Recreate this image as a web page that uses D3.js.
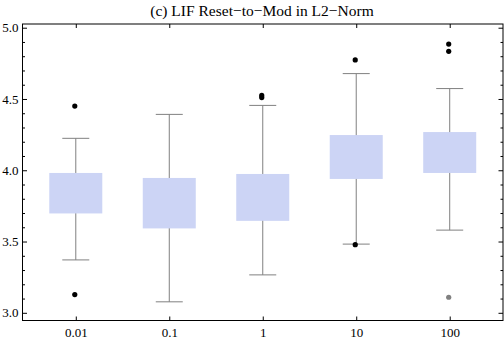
<!DOCTYPE html>
<html><head><meta charset="utf-8">
<script src="https://cdn.jsdelivr.net/npm/d3@7"></script>
<style>body{margin:0;background:#fff}svg{display:block}svg text{font-family:'Liberation Serif',serif !important}</style>
</head><body><svg id="c" width="504" height="343"></svg>
<script>
const categories = ["0.01","0.1","1","10","100"];
const q1 = [3.697, 3.592, 3.645, 3.939, 3.981];
const q3 = [3.981, 3.946, 3.974, 4.247, 4.268];
const whiskerLow = [3.371, 3.077, 3.266, 3.482, 3.580];
const whiskerHigh = [4.224, 4.392, 4.455, 4.678, 4.573];
const outliers = [[4.45, 3.128], [], [4.51, 4.525], [4.774, 3.478], [4.885, 4.834]];
const farOutliers = [[], [], [], [], [3.109]];
const yTicks = [3.0, 3.5, 4.0, 4.5, 5.0];
const title = "(c) LIF Reset\u2212to\u2212Mod in L2\u2212Norm";

const svg = d3.select("#c");
const L = 22.5, R = 503, T = 24, B = 320.5;
const x = d3.scalePoint().domain(categories).range([L, R]).padding(0.57);
const y = d3.scaleLinear().domain([2.946, 5.026]).range([B, T]);
const boxW = 53, capW = 27;

const g = svg.append("g");
categories.forEach((c, i) => {
  const cx = x(c);
  g.append("line").attr("x1", cx).attr("x2", cx).attr("y1", y(whiskerLow[i])).attr("y2", y(whiskerHigh[i]))
    .attr("stroke", "#808080").attr("stroke-width", 1);
  [whiskerLow[i], whiskerHigh[i]].forEach(v => {
    g.append("line").attr("x1", cx - capW/2).attr("x2", cx + capW/2).attr("y1", y(v)).attr("y2", y(v))
      .attr("stroke", "#808080").attr("stroke-width", 1);
  });
  g.append("rect").attr("x", cx - boxW/2).attr("width", boxW).attr("y", y(q3[i])).attr("height", y(q1[i]) - y(q3[i]))
    .attr("fill", "#CCD4F5");
  outliers[i].forEach(v => g.append("circle").attr("cx", cx - 1).attr("cy", y(v)).attr("r", 2.6).attr("fill", "#000"));
  farOutliers[i].forEach(v => g.append("circle").attr("cx", cx - 1).attr("cy", y(v)).attr("r", 2.6).attr("fill", "#808080"));
});

svg.append("rect").attr("x", L).attr("y", T).attr("width", R - L).attr("height", B - T)
  .attr("fill", "none").attr("stroke", "#000").attr("stroke-width", 1);

const minor = d3.range(30, 51).map(d => d / 10).filter(v => !yTicks.some(t => Math.abs(t - v) < 1e-6));
function styleAxis(sel){
  sel.select(".domain").remove();
  sel.attr("font-family", "Liberation Serif, serif").attr("font-size", 13);
  sel.selectAll("line").attr("stroke", "#000");
  sel.selectAll("text").attr("fill", "#000");
}

svg.append("g").attr("transform", `translate(${L},0)`)
  .call(d3.axisLeft(y).tickValues(yTicks).tickSize(-4.5).tickPadding(4).tickFormat(d3.format(".1f")))
  .call(styleAxis);
svg.append("g").attr("transform", `translate(${L},0)`)
  .call(d3.axisLeft(y).tickValues(minor).tickSize(-2.5).tickFormat(""))
  .call(styleAxis);
svg.append("g").attr("transform", `translate(${R},0)`)
  .call(d3.axisRight(y).tickValues(yTicks).tickSize(-4.5).tickFormat(""))
  .call(styleAxis);
svg.append("g").attr("transform", `translate(${R},0)`)
  .call(d3.axisRight(y).tickValues(minor).tickSize(-2.5).tickFormat(""))
  .call(styleAxis);
svg.append("g").attr("transform", `translate(0,${B})`)
  .call(d3.axisBottom(x).tickSize(-4).tickPadding(7))
  .call(styleAxis);
svg.append("g").attr("transform", `translate(0,${T})`)
  .call(d3.axisTop(x).tickSize(-4).tickFormat(""))
  .call(styleAxis);

svg.append("text").attr("x", 262).attr("y", 16).attr("text-anchor", "middle")
  .attr("font-size", 15.5).attr("fill", "#000").text(title);
</script></body></html>
